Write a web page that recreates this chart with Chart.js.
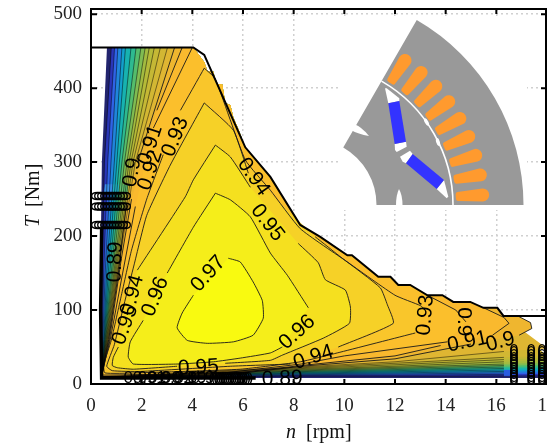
<!DOCTYPE html>
<html>
<head>
<meta charset="utf-8">
<style>
  html, body { margin: 0; padding: 0; background: #fff; overflow: hidden; }
</style>
<script src="https://cdn.jsdelivr.net/npm/chart.js@4"></script>
</head>
<body>
<canvas id="map" width="547" height="445"></canvas>
<script>
// operating limit of the machine, [n, T]
const limitCurve = [[0,455],[4.04,455],[4.47,445],[6.09,320],[7.08,280],[8.26,215],[9.05,199],[10.12,174],[10.3,174],[11.34,145],[11.82,145],[12.13,134],[12.6,134],[13.28,120],[13.87,120],[14.3,111],[14.97,111],[15.49,103],[16.04,103],[16.28,92],[18,92]];
// the fill stops short of the limit in steps on the upper flank
const fillEdge = [[4.04,455],[4.47,435],[4.6,422],[4.83,422],[4.95,405],[5.18,405],[5.3,380],[5.5,377],[5.62,360],[5.82,344],[6.09,320],[7.08,280],[8.26,215],[9.05,199],[10.12,174],[10.3,174],[11.34,145],[11.82,145],[12.13,134],[12.6,134],[13.28,120],[13.87,120],[14.3,111],[14.97,111],[15.49,103],[16.04,103],[16.28,92],[18,92]];
const thickEdge = [[0.42,210],[0.38,100],[0.42,8],[6.5,8]];

// contours, outer to inner; null is a break for a label
const level00 = [[0.63,455],[0.43,300],[0.37,150],[0.38,60],[0.4,8],[8,8],[12,8],[16.3,8],[18,8]];
const level01 = [[0.8,455],[0.53,300],[0.44,150],[0.41,60],[0.42,9],[8,10.5],[12,10.5],[16.3,11],[18,12]];
const level02 = [[0.93,455],[0.66,300],[0.5,150],[0.44,60],[0.42,9],[8,11.5],[12,12],[16.3,13],[18,14]];
const level03 = [[1.06,455],[0.79,300],[0.56,150],[0.47,60],[0.42,9],[8,12.5],[12,13.5],[16.3,15],[18,16]];
const level04 = [[1.22,455],[0.92,300],[0.62,150],[0.5,60],[0.42,9],[8,13.5],[12,15],[16.3,17],[18,18]];
const level05 = [[1.36,455],[1.02,300],[0.68,150],[0.52,60],[0.42,9],[8,14.5],[12,16.5],[16.3,19],[18,20]];
const level06 = [[1.58,455],[1.12,300],[0.74,150],[0.54,60],[0.42,9],[8,15.5],[12,18],[16.3,21],[18,22]];
const level07 = [[1.78,455],[1.22,300],[0.8,150],[0.56,60],[0.42,9],[8,16.5],[12,19.5],[16.3,23],[18,24]];
const level08 = [[1.97,455],[1.32,300],[0.85,150],[0.58,60],[0.42,9],[8,17.5],[12,21],[16.3,25],[18,26]];
const level09 = [[2.14,455],[1.42,300],[0.9,150],[0.6,60],[0.42,9],[8,18.5],[12,22.5],[16.3,27],[18,29]];
const level10 = [[2.3,455],[1.5,300],[0.94,150],[0.62,60],[0.42,9],[8,19.5],[12,24],[16.3,30],[18,32]];
const level11 = [[2.5,455],[1.58,300],[0.98,150],[0.64,60],[0.42,9],[8,20.5],[12,26],[16.3,33],[18,35]];
const level12 = [[2.74,455],[1.66,300],[1.02,150],[0.66,60],[0.42,9],[8,21.5],[12,28],[16.3,36],[18,38]];
const level13 = [[3.02,455],[1.75,300],[1.05,150],[0.68,60],[0.42,10],[8,22.5],[12,30],[16.3,44],[18,48]];
const level090 = [[3.3,455],[1.85,300],null,[1.4,245],[1.08,150],[0.7,60],[0.42,10],[5,11],[8.3,24],[12,34],[15,54],null,[16.9,66],[17.4,75],[17.35,83],[16.9,91]];
const level091 = [[3.6,455],[2.6,370],null,[1.6,250],[1.2,170],[0.73,60],[0.42,10],[5,12],[8.3,25],[12,38],[13.8,52],null,[15.85,66],[16.5,82],[16.3,90],[15.5,103]];
const level092 = [[4,455],[2.46,346],null,[1.75,240],[1.25,150],[0.76,60],[0.42,12],[5,14],[8.3,27],[10,38],[14.07,57],null,[14.8,84],[14.4,100],[13.28,120]];
const level093 = [[4.47,427],[4.9,413],[6.09,303],[7.08,262],[8.26,210],[10.12,165],[12,120],[13,106],[13.2,100],null,[12.8,69],[9.72,42],[8.26,30],[5.89,20],[1.75,15],[0.55,15],[0.5,26],[0.8,59],[1.2,120],[1.6,181],[2.2,250],[2.85,310],null,[3.53,370],[4.47,427]];
const level094 = [[4.47,380],[5.62,343],[6.21,285],null,[8.85,199],[9.92,170],[11.42,130],[11.7,107],[11.93,82],[9.76,50],null,[7.87,27],[5.5,24],[1.95,17],[0.84,18],[0.62,24],[0.92,53],[1.3,107],[1.7,161],[2.2,228],[3.13,296],[4.47,380]];
const level095 = [[4.91,323],[5.5,307],[6.29,266],null,[8.18,190],[8.97,164],[9.25,141],[10.04,127],[10.24,104],[10.2,82],[9.17,62],[7.55,39],[7.08,32],[5.3,28],null,[3.4,24],[1.67,20],[1.04,22],[0.84,25],[0.88,36],[1.08,50],null,[1.83,154],[3.72,253],[4.04,276],[4.91,323]];
const level096 = [[4.91,258],[5.5,249],[6.29,226],[7.08,177],[7.75,147],[8.58,103],null,[7.55,50],[7.08,42],[5.89,35],[4.83,30],[3.4,27],[1.67,27],[1.47,36.5],[1.55,57],[2.06,86],null,[3.01,150],[4.04,212],[4.91,258]];
const level097 = [[5.42,170],[5.89,165],[6.4,138],[6.76,113],[6.8,89],[6.4,66],[5.62,57],[4.59,55],[3.8,59],[3.4,76],[3.6,96],[4.04,120],null,[5.42,170]];

const openLevels = [level00,level01,level02,level03,level04,level05,level06,level07,level08,level09,level10,level11,level12,level13,level090,level091,level092];
const closedLevels = [level093,level094,level095,level096,level097];
const levelColors = ['#22246e','#2a36b8','#2f63e6','#2085dc','#12a0cc','#17b2b0','#2eba90','#55bd6c','#80bc52','#a3bb40','#b5ba38','#c5b835','#d2b733','#dfb632','#efb62f','#f9b92e','#fbbf2c','#f9c62b','#f6d127','#f5e01f','#f5ee1a','#f9fa10'];

// small bright cells left where the low labels pile up
const patchA = [[0.5,258],[0.85,258],[0.85,270],[0.55,270]];
const patchB = [[0.85,258],[1.1,258],[1.1,270],[0.85,270]];
const patchC = [[1.1,258],[1.45,258],[1.45,270],[1.1,270]];
const patchD = [[16.3,11],[16.65,11],[16.65,19],[16.3,19]];
const patches = [patchA, patchB, patchC, patchD];
const patchColors = ['#3a8ee8','#20b0c0','#5fc070','#2a5ce0'];

const labelTexts = ['0.97','0.96','0.95','0.94','0.93','0.91','0.92','0.9','0.89','0.94','0.95','0.96','0.94','0.93','0.9','0.91','0.9','0.95','0.89'];
const labelN = [4.63,2.54,1.35,1.63,3.33,2.34,2.34,1.63,0.96,6.41,6.96,8.14,8.78,13.2,14.7,14.86,16.16,4.24,7.55];
const labelT = [149,118,80,120,334,323,289,286,165,280,218,70,36,93,84,57,57,22,7];
const labelAngles = [-48,-68,-70,-75,-68,-72,-72,-80,-88,55,52,-42,-18,-85,90,-12,-15,-3,-2];

// overlapping labels that turn into black blobs
const chainTexts = ['0.9','0.91','0.90','0.92','0.89','0.9'];
const chainN = [1.75,2.3,2.9,3.4,3.9,4.4];
const chainT = [8,8,8,8,8,8];
const leftBlobT = [254,240,215];
const rightBlobN = [16.7,17.38,17.8];

const xTicks = [0,2,4,6,8,10,12,14,16,18];
const yTicks = [0,100,200,300,400,500];

const serif = '"Liberation Serif", serif';
const sans = '"Liberation Sans", sans-serif';

function toPoints(line) {
  return line.map(p => p ? {x: p[0], y: p[1]} : {x: NaN, y: null});
}

// an open contour is closed along the fill edge between its two ends
function regionOf(line) {
  const pts = line.filter(p => p);
  const first = pts[0], last = pts[pts.length - 1];
  const edge = fillEdge.filter(p => p[0] > first[0] && p[0] < last[0]);
  return [first].concat(edge, pts.slice(1).reverse());
}

const datasets = [];
const allLevels = openLevels.concat(closedLevels);
allLevels.forEach((line, i) => {
  const poly = i < openLevels.length ? regionOf(line) : line.filter(p => p);
  datasets.push({
    data: toPoints(poly), showLine: true, borderWidth: 0, borderColor: 'transparent',
    backgroundColor: levelColors[i], fill: 'shape', pointRadius: 0, tension: 0,
    order: 200 - i
  });
});
patches.forEach((p, i) => {
  datasets.push({
    data: toPoints(p), showLine: true, borderWidth: 0, borderColor: 'transparent',
    backgroundColor: patchColors[i], fill: 'shape', pointRadius: 0, order: 100
  });
});
allLevels.forEach((line, i) => {
  if (i === 0) return;
  // the low contours end at the last computed speed, the colour goes on
  const drawn = i < 14 ? line.slice(0, -1) : line;
  datasets.push({
    data: toPoints(drawn), showLine: true, borderWidth: i < 14 ? 0.8 : 0.9,
    borderColor: i < 14 ? 'rgba(0,0,0,0.6)' : '#1a1a1a',
    fill: false, pointRadius: 0, tension: i >= 17 ? 0.15 : 0, spanGaps: false, order: 50
  });
});
datasets.push({data: toPoints(thickEdge), showLine: true, borderWidth: 3.5, borderColor: '#000', fill: false, pointRadius: 0, order: 2});
datasets.push({data: toPoints(limitCurve), showLine: true, borderWidth: 2, borderColor: '#000', fill: false, pointRadius: 0, order: 1});

function drawMotor(ctx) {
  const cx = 310, cy = 205;
  ctx.save();
  // white patch hides the grid behind the inset
  ctx.fillStyle = '#fff';
  ctx.fillRect(340, 16, 187, 194);

  ctx.fillStyle = '#999999';
  ctx.beginPath();
  ctx.arc(cx, cy, 213.5, 0, -Math.PI / 3, true);
  ctx.arc(cx, cy, 66.5, -Math.PI / 3, 0, false);
  ctx.closePath();
  ctx.fill();

  ctx.strokeStyle = '#fff';
  ctx.lineWidth = 1.6;
  ctx.beginPath();
  ctx.arc(cx, cy, 143, 0, -Math.PI / 3, true);
  ctx.stroke();

  // stator slots
  ctx.fillStyle = '#ff9a2e';
  for (let i = 0; i < 9; i++) {
    const a = (3.33 + 6.67 * i) * Math.PI / 180;
    ctx.save();
    ctx.translate(cx, cy);
    ctx.rotate(-a);
    ctx.beginPath();
    ctx.moveTo(146, -2);
    ctx.quadraticCurveTo(146, -4.5, 148, -4.5);
    ctx.lineTo(173, -6.5);
    ctx.arc(173, 0, 6.5, -Math.PI / 2, Math.PI / 2);
    ctx.lineTo(148, 4.5);
    ctx.quadraticCurveTo(146, 4.5, 146, 2);
    ctx.closePath();
    ctx.fill();
    ctx.restore();
  }

  const poly = (color, pts) => {
    ctx.fillStyle = color;
    ctx.beginPath();
    pts.forEach((p, i) => i ? ctx.lineTo(p[0], p[1]) : ctx.moveTo(p[0], p[1]));
    ctx.closePath();
    ctx.fill();
  };
  poly('#fff', [[385,88.3],[386.7,88.3],[399.3,98.3],[399.3,101],[388.3,103.3]]);
  poly('#fff', [[394.7,144],[406,141.7],[406.7,146.7],[396.7,152],[395,150]]);
  poly('#fff', [[400,156.7],[410,150.7],[412.7,154],[406,163.3],[402.7,161.7]]);
  poly('#fff', [[444,180],[448.3,196.7],[446.7,198.3],[436.7,189]]);
  poly('#3333ff', [[388.3,103.3],[399.3,101],[406,141.7],[394.7,144]]);
  poly('#3333ff', [[412.7,154],[444,180],[436.7,189],[406,163.3]]);

  // notches
  ctx.fillStyle = '#fff';
  ctx.beginPath();
  ctx.moveTo(353, 123.5);
  ctx.quadraticCurveTo(362, 127, 369, 136);
  ctx.quadraticCurveTo(358, 134, 351, 130);
  ctx.closePath();
  ctx.fill();
  ctx.beginPath();
  ctx.moveTo(396, 205.5);
  ctx.quadraticCurveTo(396, 195, 399, 189);
  ctx.quadraticCurveTo(402.5, 195, 402.5, 205.5);
  ctx.closePath();
  ctx.fill();
  ctx.beginPath();
  ctx.ellipse(426.5, 122, 1.8, 4, -0.5, 0, Math.PI * 2);
  ctx.ellipse(438, 142, 1.8, 4, -0.3, 0, Math.PI * 2);
  ctx.fill();
  ctx.restore();
}

const inset = {
  id: 'inset',
  beforeDatasetsDraw(chart) { drawMotor(chart.ctx); }
};

const annotate = {
  id: 'annotate',
  afterDatasetsDraw(chart) {
    const ctx = chart.ctx, xs = chart.scales.x, ys = chart.scales.y, a = chart.chartArea;
    const put = (text, px, py, deg) => {
      ctx.save();
      ctx.translate(px, py);
      ctx.rotate(deg * Math.PI / 180);
      ctx.fillText(text, 0, 0);
      ctx.restore();
    };
    ctx.save();
    ctx.beginPath();
    ctx.rect(a.left, a.top, a.right - a.left, a.bottom - a.top);
    ctx.clip();
    ctx.fillStyle = '#000';
    ctx.textAlign = 'center';
    ctx.textBaseline = 'middle';
    ctx.font = '21px ' + sans;
    labelTexts.forEach((t, i) => put(t, xs.getPixelForValue(labelN[i]), ys.getPixelForValue(labelT[i]), labelAngles[i]));
    ctx.font = '17px ' + sans;
    chainTexts.forEach((t, i) => put(t, xs.getPixelForValue(chainN[i]), ys.getPixelForValue(chainT[i]), 0));

    // stacks of clipped "0" labels
    ctx.font = '18px ' + sans;
    leftBlobT.forEach(t => {
      for (let n = 0.2; n <= 1.3; n += 0.12) put('0', xs.getPixelForValue(n), ys.getPixelForValue(t), 90);
    });
    for (let n = 4.85; n <= 6.25; n += 0.09) {
      put('0', xs.getPixelForValue(n), ys.getPixelForValue(5), 0);
    }
    ctx.font = '16px ' + sans;
    rightBlobN.forEach(n => {
      for (let t = 2; t <= 46; t += 3.5) put('0', xs.getPixelForValue(n), ys.getPixelForValue(t), 0);
    });
    ctx.restore();
  },
  afterDraw(chart) {
    const ctx = chart.ctx, xs = chart.scales.x, ys = chart.scales.y, a = chart.chartArea;
    ctx.save();
    ctx.strokeStyle = '#000';
    ctx.lineWidth = 2;
    ctx.beginPath();
    xTicks.forEach(v => {
      const px = xs.getPixelForValue(v);
      ctx.moveTo(px, a.top); ctx.lineTo(px, a.top + 5);
      ctx.moveTo(px, a.bottom); ctx.lineTo(px, a.bottom - 5);
    });
    yTicks.forEach(v => {
      const py = ys.getPixelForValue(v);
      ctx.moveTo(a.left, py); ctx.lineTo(a.left + 6, py);
      ctx.moveTo(a.right, py); ctx.lineTo(a.right - 6, py);
    });
    ctx.stroke();
    ctx.lineWidth = 2;
    ctx.strokeRect(a.left, a.top, a.right - a.left - 1, a.bottom - a.top);

    // axis titles, mixed italic and upright
    ctx.fillStyle = '#111';
    ctx.textBaseline = 'alphabetic';
    ctx.textAlign = 'left';
    ctx.font = 'italic 20px ' + serif;
    ctx.fillText('n', 286, 438);
    ctx.font = '20px ' + serif;
    ctx.fillText('[rpm]', 306, 438);
    ctx.translate(39, 0);
    ctx.rotate(-Math.PI / 2);
    ctx.font = 'italic 20px ' + serif;
    ctx.fillText('T', -227, 0);
    ctx.font = '20px ' + serif;
    ctx.fillText('[Nm]', -207, 0);
    ctx.restore();
  }
};

new Chart(document.getElementById('map'), {
  type: 'scatter',
  data: {datasets: datasets},
  plugins: [inset, annotate],
  options: {
    responsive: false,
    animation: false,
    events: [],
    layout: {padding: {top: 9}},
    plugins: {legend: {display: false}, tooltip: {enabled: false}, title: {display: false}},
    scales: {
      x: {
        type: 'linear', min: 0, max: 18,
        grid: {color: '#d0d0d0', lineWidth: 1.5, drawTicks: false},
        border: {display: false, dash: [2, 3]},
        ticks: {
          autoSkip: false, maxRotation: 0, padding: 11, color: '#222',
          font: {family: serif, size: 19}
        },
        afterBuildTicks(s) { s.ticks = xTicks.map(v => ({value: v})); },
        afterFit(s) { s.height = 61; s.paddingLeft = 0; s.paddingRight = 0; }
      },
      y: {
        type: 'linear', min: 0, max: 507,
        grid: {color: '#d0d0d0', lineWidth: 1.5, drawTicks: false},
        border: {display: false, dash: [2, 3]},
        ticks: {
          padding: 9, color: '#222',
          font: {family: serif, size: 19}
        },
        afterBuildTicks(s) { s.ticks = yTicks.map(v => ({value: v})); },
        afterFit(s) { s.width = 91; s.paddingTop = 0; s.paddingBottom = 0; }
      }
    }
  }
});
</script>
</body>
</html>
